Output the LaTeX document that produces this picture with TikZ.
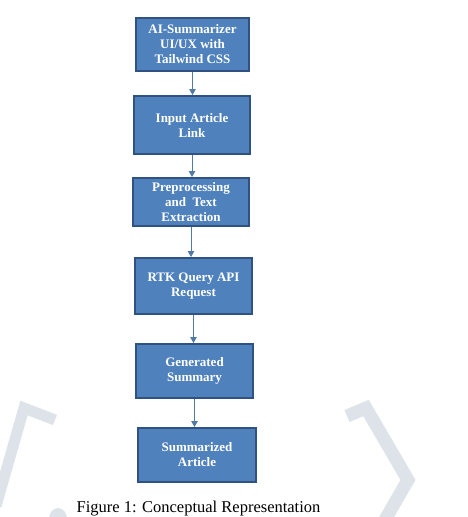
\documentclass[tikz,border=0pt]{standalone}
\usepackage{fontspec}
\setmainfont{Liberation Serif}
\usetikzlibrary{arrows.meta}
\definecolor{boxfill}{HTML}{4F81BD}
\definecolor{boxedge}{HTML}{2F5283}
\definecolor{arrowc}{HTML}{5079A8}
\definecolor{wmark}{HTML}{DDE3E8}
\tikzset{
  stepbox/.style={draw=boxedge, line width=2pt, fill=boxfill, text=white,
    font=\fontsize{13}{15}\selectfont\bfseries, align=center, inner sep=0pt},
  flowarrow/.style={draw=arrowc, line width=1pt, -{Triangle[length=6pt,width=6.5pt]}}
}
\begin{document}
\begin{tikzpicture}[x=1pt,y=-1pt]
\useasboundingbox (0,0) rectangle (467,517);
\begin{scope}
\clip (0,0) rectangle (467,517);
% watermark
\draw[wmark, line width=11pt, line join=miter] (-4,506) -- (24,408) -- (55,420);
\draw[wmark, line width=13pt, line join=miter] (347,416) -- (366,408) -- (408,480) -- (382,525);
\fill[wmark] (58,519) ellipse (9pt and 11pt);
\end{scope}
% boxes
\node[stepbox, minimum width=113pt, minimum height=53pt] (b1) at (192.5,44.5) {AI-Summarizer\\UI/UX with\\Tailwind CSS};
\node[stepbox, minimum width=116pt, minimum height=58pt] (b2) at (192,125) {Input Article\\Link};
\node[stepbox, minimum width=116pt, minimum height=48pt] (b3) at (191,202) {Preprocessing\\and\ \ Text\\Extraction};
\node[stepbox, minimum width=117pt, minimum height=56pt] (b4) at (193.5,286) {RTK Query API\\Request};
\node[stepbox, minimum width=117pt, minimum height=54pt] (b5) at (194.5,371) {Generated\\Summary};
\node[stepbox, minimum width=118pt, minimum height=54pt] (b6) at (197,455) {Summarized\\Article};
% arrows
\draw[flowarrow] (b1.south) -- (b1.south |- b2.north);
\draw[flowarrow] (b2.south) -- (b2.south |- b3.north);
\draw[flowarrow] (b3.south) -- (b3.south |- b4.north);
\draw[flowarrow] (b4.south) -- (b4.south |- b5.north);
\draw[flowarrow] (b5.south) -- (b5.south |- b6.north);
% caption
\node[anchor=base, font=\fontsize{16.5}{19}\selectfont, inner sep=0pt] (cap) at (198.5,512) {Figure 1: Conceptual Representation};
\end{tikzpicture}
\end{document}
